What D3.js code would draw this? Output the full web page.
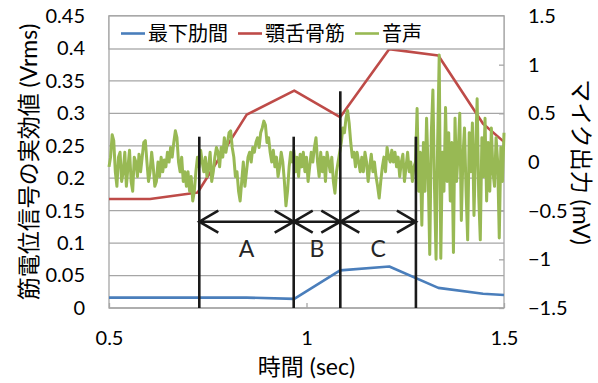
<!DOCTYPE html>
<html>
<head>
<meta charset="utf-8">
<script src="https://cdn.jsdelivr.net/npm/d3@7"></script>
<style>
  html, body { margin: 0; padding: 0; background: #fff; }
  svg { display: block; font-family: Lato, "Noto Sans CJK JP", sans-serif; }
</style>
</head>
<body>
<svg id="chart" width="598" height="383"></svg>
<script>
// RMS of EMG signals (left axis, Vrms), sampled at these times (sec)
const emgTimes = [0.5, 0.604, 0.7245, 0.8486, 0.969, 1.085, 1.2096, 1.3337, 1.447, 1.5];
const intercostal = [0.016, 0.016, 0.016, 0.016, 0.014, 0.058, 0.064, 0.031, 0.022, 0.020]; // 最下肋間
const suprahyoid = [0.168, 0.168, 0.178, 0.298, 0.335, 0.294, 0.399, 0.389, 0.284, 0.256];  // 顎舌骨筋

// Microphone output (right axis, mV), one sample every 4 ms from 0.5 s
const micStart = 0.5;
const micStep = 0.004;
const micValues = [
  -0.05, 0.05, 0.28, 0.22, -0.1, -0.25, 0.05, 0.1, -0.2, -0.1,
  0.1, -0.25, -0.05, 0.12, -0.2, -0.3, 0.05, 0.0, -0.15, 0.08,
  -0.1, 0.05, 0.2, 0.22, 0.0, -0.2, -0.1, 0.1, -0.05, -0.25,
  -0.2, 0.0, -0.15, 0.05, -0.1, 0.02, -0.05, 0.1, 0.0, 0.15,
  0.05, 0.2, 0.32, 0.25, 0.0, -0.1, 0.05, -0.2, -0.1, -0.25,
  -0.1, -0.3, -0.15, -0.4, -0.3, -0.1, 0.05, -0.05, 0.12, 0.0,
  -0.1, 0.05, -0.15, -0.05, 0.1, -0.2, -0.1, 0.05, 0.15, 0.1,
  -0.05, 0.15, 0.05, 0.25, 0.1, 0.2, 0.3, 0.32, 0.15, 0.05,
  -0.15, -0.1, -0.3, -0.4, -0.2, 0.0, -0.25, -0.1, 0.05, 0.1,
  0.0, 0.15, 0.1, 0.2, 0.25, 0.15, 0.3, 0.35, 0.42, 0.38,
  0.2, 0.25, 0.1, 0.0, 0.12, -0.05, 0.05, -0.15, -0.05, 0.1,
  0.0, -0.2, -0.45, -0.3, -0.05, 0.1, 0.0, 0.12, -0.1, 0.05,
  -0.15, 0.08, -0.05, 0.1, -0.1, 0.05, -0.2, -0.05, 0.1, 0.0,
  0.15, 0.25, 0.0, -0.15, 0.1, -0.1, 0.05, -0.2, 0.1, 0.0,
  -0.1, 0.05, -0.2, -0.32, -0.1, 0.0, 0.1, 0.2, 0.35, 0.3,
  0.45, 0.53, 0.4, 0.2, 0.05, 0.1, -0.05, 0.1, 0.0, -0.1,
  0.05, -0.1, 0.1, 0.0, -0.2, -0.05, 0.08, -0.1, 0.0, -0.15,
  -0.25, -0.37, -0.2, -0.05, 0.05, -0.1, 0.15, 0.05, 0.0, 0.12,
  0.0, 0.1, -0.05, 0.05, -0.15, 0.0, 0.08, -0.2, -0.05, 0.1,
  -0.1, 0.0, -0.2, -0.05, 0.0, 0.55, -0.3, 0.1, -0.65, 0.2,
  -0.3, 0.45, -0.1, -0.95, 0.3, 0.74, -0.25, -1.0, 0.2, 1.1,
  -0.99, 0.1, -0.3, 0.56, -0.2, 0.3, -0.4, 0.2, -0.93, 0.45,
  -0.2, 0.1, 0.5, -0.6, 0.05, 0.35, -0.3, -0.8, 0.3, -0.1,
  0.4, -0.55, 0.1, 0.65, -0.35, -0.8, 0.25, -0.15, 0.45, -0.4,
  0.2, -0.3, 0.35, -0.1, -0.25, 0.25, 0.0, -0.78, 0.15, -0.2, 0.3
];

// Phase boundaries (sec) and the top of each boundary line (Vrms)
const phaseTimes = [0.7286, 0.9676, 1.0856, 1.277];
const phaseTops = [0.264, 0.264, 0.334, 0.264];
const phaseLabels = ["A", "B", "C"];

// Axis ticks
const xTicks = [0.5, 1, 1.5];
const leftTicks = [0, 0.05, 0.1, 0.15, 0.2, 0.25, 0.3, 0.35, 0.4, 0.45];
const rightTicks = [-1.5, -1, -0.5, 0, 0.5, 1, 1.5];

const seriesNames = ["最下肋間", "顎舌骨筋", "音声"];
const seriesColors = ["#4A7EBB", "#BE4B48", "#98B954"];

const W = 598, H = 383;
const margin = { top: 16, right: 94, bottom: 75, left: 109 };
const iw = W - margin.left - margin.right;
const ih = H - margin.top - margin.bottom;

const svg = d3.select("#chart");
const g = svg.append("g").attr("transform", `translate(${margin.left},${margin.top})`);

const x = d3.scaleLinear().domain([0.5, 1.5]).range([0, iw]);
const yL = d3.scaleLinear().domain([0, 0.45]).range([ih, 0]);
const yR = d3.scaleLinear().domain([-1.5, 1.5]).range([ih, 0]);

const gridColor = "#a6a6a6";

// horizontal gridlines from the left axis
g.append("g")
  .selectAll("line")
  .data(leftTicks)
  .join("line")
  .attr("x1", 0).attr("x2", iw)
  .attr("y1", d => yL(d)).attr("y2", d => yL(d))
  .attr("stroke", gridColor).attr("stroke-width", 1.3);

// axes
const fmt = d => d3.format("~g")(+d.toFixed(3));
const leftAxis = g.append("g")
  .call(d3.axisLeft(yL).tickValues(leftTicks).tickFormat(fmt).tickSize(0).tickPadding(24));
const rightAxis = g.append("g").attr("transform", `translate(${iw},0)`)
  .call(d3.axisRight(yR).tickValues(rightTicks).tickFormat(fmt).tickSizeInner(-5).tickSizeOuter(0).tickPadding(24));
const bottomAxis = g.append("g").attr("transform", `translate(0,${ih})`)
  .call(d3.axisBottom(x).tickValues(xTicks).tickFormat(fmt).tickSizeInner(-5).tickSizeOuter(0).tickPadding(23));

[leftAxis, rightAxis, bottomAxis].forEach(a => {
  a.select(".domain").remove();
  a.selectAll(".tick line").attr("stroke", gridColor).attr("stroke-width", 1.3);
  a.selectAll(".tick text").attr("font-size", 20).attr("fill", "#000")
    .attr("font-family", "Lato, sans-serif");
});

// plot border
g.append("rect")
  .attr("x", 0).attr("y", 0).attr("width", iw).attr("height", ih)
  .attr("fill", "none").attr("stroke", gridColor).attr("stroke-width", 1.3);

// EMG lines
const lineL = d3.line().x(d => x(d[0])).y(d => yL(d[1]));
g.append("path")
  .datum(emgTimes.map((t, i) => [t, intercostal[i]]))
  .attr("d", lineL).attr("fill", "none")
  .attr("stroke", seriesColors[0]).attr("stroke-width", 2.6).attr("stroke-linejoin", "round");
g.append("path")
  .datum(emgTimes.map((t, i) => [t, suprahyoid[i]]))
  .attr("d", lineL).attr("fill", "none")
  .attr("stroke", seriesColors[1]).attr("stroke-width", 2.6).attr("stroke-linejoin", "round");

// microphone trace
const lineR = d3.line().x(d => x(d[0])).y(d => yR(d[1]));
g.append("path")
  .datum(micValues.map((v, i) => [micStart + i * micStep, v]))
  .attr("d", lineR).attr("fill", "none")
  .attr("stroke", seriesColors[2]).attr("stroke-width", 3).attr("stroke-linejoin", "round");

// legend across the top of the plot
const legendH = 33;
const lg = g.append("g");
lg.append("rect").attr("x", 0).attr("y", 0).attr("width", iw).attr("height", legendH)
  .attr("fill", "#fff").attr("stroke", gridColor).attr("stroke-width", 1.3);
const legendX = [12, 129, 246];
seriesNames.forEach((name, i) => {
  const item = lg.append("g").attr("transform", `translate(${legendX[i]},${legendH / 2 + 1})`);
  item.append("line").attr("x1", 0).attr("x2", 24).attr("y1", 0).attr("y2", 0)
    .attr("stroke", seriesColors[i]).attr("stroke-width", 2.6);
  item.append("text").attr("x", 27).attr("y", 7.5)
    .attr("font-size", 20).attr("font-family", "'Noto Sans CJK JP', sans-serif")
    .attr("fill", "#000").text(name);
});

// phase boundary lines
g.append("g")
  .selectAll("line")
  .data(phaseTimes)
  .join("line")
  .attr("x1", d => x(d)).attr("x2", d => x(d))
  .attr("y1", (d, i) => yL(phaseTops[i])).attr("y2", ih)
  .attr("stroke", "#1a1a1a").attr("stroke-width", 2.6);

// double-headed arrows spanning each phase, with labels
const arrowY = yL(0.133);
const head = 19, spread = 11;
const arrows = g.append("g");
phaseLabels.forEach((lab, i) => {
  const a = x(phaseTimes[i]), b = x(phaseTimes[i + 1]);
  const p = d3.path();
  p.moveTo(a, arrowY); p.lineTo(b, arrowY);
  p.moveTo(a + head, arrowY - spread); p.lineTo(a, arrowY); p.lineTo(a + head, arrowY + spread);
  p.moveTo(b - head, arrowY - spread); p.lineTo(b, arrowY); p.lineTo(b - head, arrowY + spread);
  arrows.append("path").attr("d", p.toString()).attr("fill", "none")
    .attr("stroke", "#1a1a1a").attr("stroke-width", 2.6).attr("stroke-linejoin", "miter");
  arrows.append("text")
    .attr("x", (a + b) / 2).attr("y", yL(0.079))
    .attr("text-anchor", "middle").attr("font-size", 23)
    .attr("font-family", "Lato, sans-serif").attr("fill", "#262626").text(lab);
});

// axis titles
svg.append("text")
  .attr("transform", `translate(37,${margin.top + ih / 2}) rotate(-90)`)
  .attr("text-anchor", "middle").attr("font-size", 23).attr("fill", "#000")
  .text("筋電位信号の実効値 (Vrms)");
svg.append("text")
  .attr("transform", `translate(573,${margin.top + ih / 2}) rotate(90)`)
  .attr("text-anchor", "middle").attr("font-size", 23).attr("fill", "#000")
  .text("マイク出力 (mV)");
svg.append("text")
  .attr("x", margin.left + iw / 2).attr("y", 375)
  .attr("text-anchor", "middle").attr("font-size", 23).attr("fill", "#000")
  .text("時間 (sec)");
</script>
</body>
</html>
